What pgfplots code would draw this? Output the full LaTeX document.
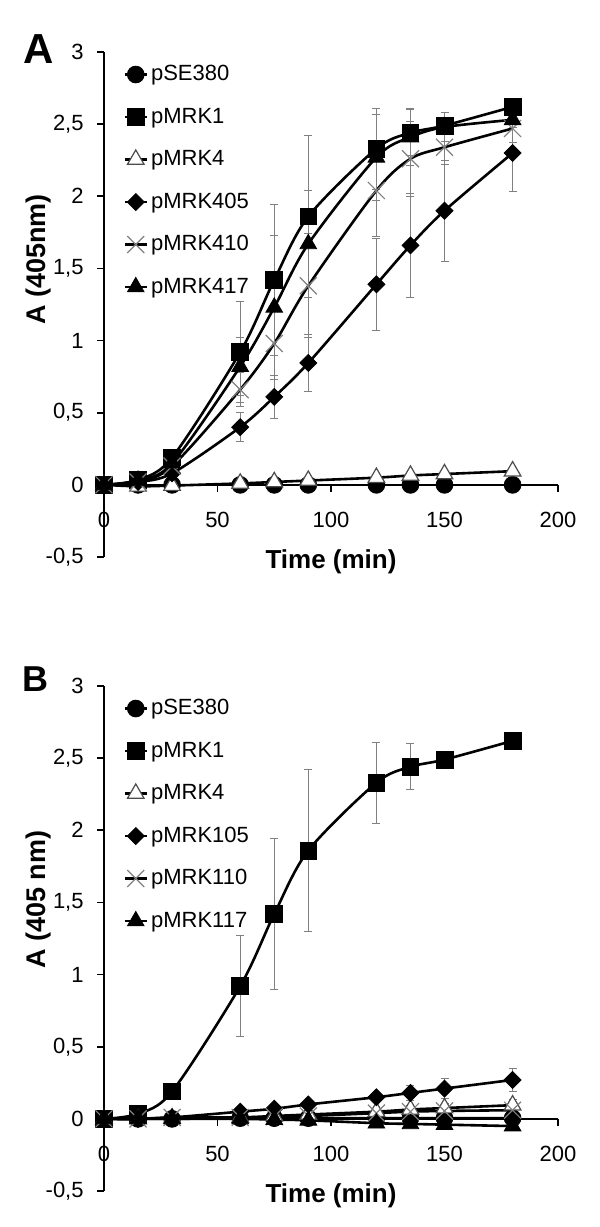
\documentclass[border=0pt]{standalone}
\usepackage{fontspec}
\setmainfont{Liberation Sans}
\usepackage{pgfplots}
\pgfplotsset{compat=1.18}

\pgfplotsset{
  panel/.style={
    scale only axis, width=227pt, height=252.5pt,
    xmin=0, xmax=200, ymin=-0.5, ymax=3,
    axis x line*=middle, axis y line*=left,
    hide obscured x ticks=false, hide obscured y ticks=false,
    xtick={0,50,...,200}, ytick={-0.5,0,...,3},
    % ticks drawn inside, then moved out, so the labels keep a fixed gap
    tick align=inside, major tick length=3.5pt,
    xtick style={yshift=-3.5pt}, ytick style={xshift=-3.5pt},
    axis line style={line width=0.9pt},
    tick style={line width=0.9pt, black},
    /pgf/number format/assume math mode=true,
    /pgf/number format/use comma,
    tick label style={font=\fontsize{11}{13}\selectfont, inner sep=0pt},
    xticklabel style={anchor=north, yshift=-13.3pt},
    yticklabel style={anchor=east, xshift=-10pt},
    xlabel={Time (min)},
    xlabel style={font=\fontsize{13}{15}\selectfont\bfseries,
      at={(axis description cs:0.5,0)}, anchor=center, yshift=-2.2pt},
    ylabel style={font=\fontsize{13.5}{16}\selectfont\bfseries, anchor=south, inner sep=0pt},
    clip=false,
    legend style={at={(axis description cs:0.042,0.976)}, anchor=north west,
      draw=none, fill=none, inner sep=0pt,
      font=\fontsize{11}{13}\selectfont, row sep=11.25pt,
      nodes={inner xsep=1.5pt, inner ysep=0pt, text height=8pt, text depth=2pt}},
    legend cell align=left,
    legend image code/.code={
      \draw[mark repeat=2, mark phase=2, #1]
        plot coordinates {(0pt,0pt) (5.5pt,0pt) (11pt,0pt)};},
    every axis plot/.append style={line width=1.3pt, black, smooth},
    error bars/error bar style={gray, line width=0.5pt},
    error bars/error mark options={rotate=90, mark size=2pt, gray, line width=0.5pt},
  },
  s1/.style={mark=*, mark size=4.2pt, mark options={fill=black, line width=0.4pt}},
  s2/.style={mark=square*, mark size=4.2pt, mark options={fill=black, line width=0.4pt}},
  s3/.style={mark=triangle*, mark size=4.8pt, mark options={fill=white, draw=black!70, line width=0.6pt}},
  s4/.style={mark=square*, mark size=3pt, mark options={rotate=45, fill=black, line width=0.4pt}},
  s5/.style={mark=x, mark size=6pt, mark options={draw=black!50, line width=0.6pt}},
  s6/.style={mark=triangle*, mark size=4.8pt, mark options={fill=black, line width=0.4pt}},
  eb/.style={error bars/.cd, y dir=both, y explicit},
}

\begin{document}
\begin{tikzpicture}
\path (0,0) rectangle (300pt,-613.5pt);

\node[anchor=base west, inner sep=0pt, font=\fontsize{21}{24}\selectfont\bfseries] at (11.5pt,-31.5pt) {A};
\node[anchor=base west, inner sep=0pt, font=\fontsize{18}{21}\selectfont\bfseries] at (11pt,-345.5pt) {B};

% panel A
\begin{axis}[panel, at={(52pt,-278.5pt)}, anchor=south west, ylabel={A (405nm)},
  ylabel style={at={(axis description cs:-0.115,0.589)}}]
\addplot[s1] coordinates {(0,0) (15,0) (30,0) (60,0) (75,0) (90,0) (120,0) (135,0) (150,0) (180,0)};
\addlegendentry{pSE380}
\addplot[s2, eb] coordinates {
  (0,0) (15,0.035) (30,0.19)
  (60,0.92) +- (0,0.35)
  (75,1.42) +- (0,0.52)
  (90,1.86) +- (0,0.56)
  (120,2.33) +- (0,0.28)
  (135,2.44) +- (0,0.16)
  (150,2.49) +- (0,0.05)
  (180,2.62) +- (0,0.05)};
\addlegendentry{pMRK1}
\addplot[s3] coordinates {(0,0) (15,-0.01) (30,-0.005) (60,0.01) (75,0.02) (90,0.03) (120,0.05) (135,0.065) (150,0.075) (180,0.095)};
\addlegendentry{pMRK4}
\addplot[s4, eb] coordinates {
  (0,0) (15,0.02) (30,0.08)
  (60,0.40) +- (0,0.10)
  (75,0.61) +- (0,0.15)
  (90,0.845) +- (0,0.20)
  (120,1.39) +- (0,0.32)
  (135,1.66) +- (0,0.36)
  (150,1.90) +- (0,0.35)
  (180,2.30) +- (0,0.27)};
\addlegendentry{pMRK405}
\addplot[s5, eb] coordinates {
  (0,0) (15,0.02) (30,0.13)
  (60,0.66) +- (0,0.12)
  (75,0.98) +- (0,0.25)
  (90,1.38) +- (0,0.36)
  (120,2.04) +- (0,0.32)
  (135,2.26) +- (0,0.26)
  (150,2.34) +- (0,0.12)
  (180,2.47) +- (0,0.10)};
\addlegendentry{pMRK410}
\addplot[s6, eb] coordinates {
  (0,0) (15,0.03) (30,0.15)
  (60,0.82) +- (0,0.20)
  (75,1.23) +- (0,0.50)
  (90,1.67) +- (0,0.37)
  (120,2.27) +- (0,0.30)
  (135,2.41) +- (0,0.20)
  (150,2.48) +- (0,0.10)
  (180,2.53) +- (0,0.05)};
\addlegendentry{pMRK417}
\end{axis}

% panel B
\begin{axis}[panel, at={(52pt,-595.5pt)}, anchor=south west, ylabel={A (405 nm)},
  ylabel style={at={(axis description cs:-0.115,0.577)}}]
\addplot[s1] coordinates {(0,0) (15,0) (30,0) (60,0.005) (75,0.005) (90,0.005) (120,0.005) (135,0.005) (150,0.005) (180,0.005)};
\addlegendentry{pSE380}
\addplot[s2, eb] coordinates {
  (0,0) (15,0.035) (30,0.19)
  (60,0.92) +- (0,0.35)
  (75,1.42) +- (0,0.52)
  (90,1.86) +- (0,0.56)
  (120,2.33) +- (0,0.28)
  (135,2.44) +- (0,0.16)
  (150,2.49) +- (0,0.05)
  (180,2.62) +- (0,0.05)};
\addlegendentry{pMRK1}
\addplot[s3, eb] coordinates {
  (0,0) (15,0) (30,0.005) (60,0.01) (75,0.02) (90,0.03)
  (120,0.05) +- (0,0.02)
  (135,0.065) +- (0,0.03)
  (150,0.075) +- (0,0.03)
  (180,0.095) +- (0,0.04)};
\addlegendentry{pMRK4}
\addplot[s4, eb] coordinates {
  (0,0) (15,0) (30,0.01) (60,0.05) (75,0.07) (90,0.10)
  (120,0.15) +- (0,0.03)
  (135,0.18) +- (0,0.05)
  (150,0.21) +- (0,0.07)
  (180,0.27) +- (0,0.08)};
\addlegendentry{pMRK105}
\addplot[s5] coordinates {(0,0) (15,0) (30,0.01) (60,0.01) (75,0.015) (90,0.02) (120,0.04) (135,0.05) (150,0.055) (180,0.06)};
\addlegendentry{pMRK110}
\addplot[s6] coordinates {(0,0) (15,0) (30,0) (60,0) (75,-0.005) (90,-0.01) (120,-0.03) (135,-0.035) (150,-0.04) (180,-0.05)};
\addlegendentry{pMRK117}
\end{axis}
\end{tikzpicture}
\end{document}
